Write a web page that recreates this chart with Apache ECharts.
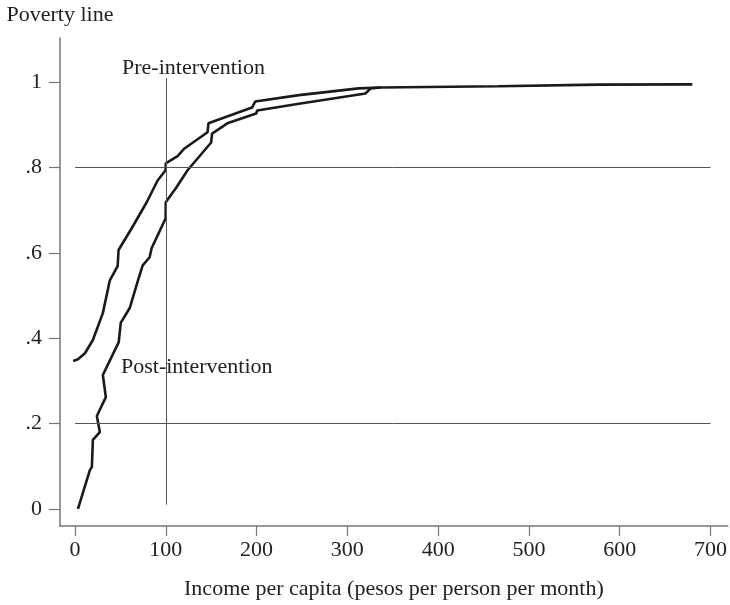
<!DOCTYPE html>
<html>
<head>
<meta charset="utf-8">
<script src="https://cdn.jsdelivr.net/npm/echarts@6/dist/echarts.min.js"></script>
<style>
html,body{margin:0;padding:0;background:#fff;}
#chart{width:730px;height:605px;}
</style>
</head>
<body>
<div id="chart"></div>
<script>
// Income per capita (x) and cumulative share (y) for the left (upper) curve
var preX = [-2, 3.3, 11, 19.7, 30.7, 38.4, 47, 48, 62.5, 79, 91, 99.8, 100, 113, 120.6, 146, 147, 195, 198.5, 246.7, 312.5, 336.6];
var preY = [0.347, 0.351, 0.365, 0.396, 0.459, 0.536, 0.569, 0.607, 0.658, 0.719, 0.770, 0.794, 0.810, 0.827, 0.845, 0.883, 0.904, 0.941, 0.955, 0.970, 0.986, 0.988];
// Right (lower) curve, continuing as the shared tail
var postX = [3.3, 16.4, 18.6, 19.7, 27.4, 24.1, 34, 30.7, 48.2, 50.4, 60.3, 69.4, 74.6, 82.2, 84.4, 99.8, 100, 111.8, 124, 150, 151, 167.8, 199.6, 200.7, 246.7, 320, 325.7, 336.6, 466, 576, 680];
var postY = [0.0, 0.091, 0.098, 0.162, 0.180, 0.218, 0.262, 0.314, 0.391, 0.436, 0.471, 0.536, 0.571, 0.590, 0.611, 0.681, 0.719, 0.754, 0.794, 0.859, 0.880, 0.904, 0.927, 0.934, 0.950, 0.974, 0.986, 0.988, 0.991, 0.9946, 0.9953];
// Reference lines: horizontal levels and vertical poverty line
var hLevels = [0.8, 0.2];
var hFrom = 0, hTo = 700;
var vLineX = 100, vLineFrom = 0.01, vLineTo = 1.01;
// Tick labels
var xTicks = [0, 100, 200, 300, 400, 500, 600, 700];
var yTicks = [0, 0.2, 0.4, 0.6, 0.8, 1];
var yTickLabels = ['0', '.2', '.4', '.6', '.8', '1'];
var labelPre = 'Pre-intervention';
var labelPost = 'Post-intervention';
var xTitle = 'Income per capita (pesos per person per month)';
var yTitle = 'Poverty line';

function zip(a, b) { return a.map(function (v, i) { return [v, b[i]]; }); }

var font = '"Liberation Serif", "DejaVu Serif", serif';
var textColor = '#222';
var fs = 22;

var markData = hLevels.map(function (l) { return [{ coord: [hFrom, l] }, { coord: [hTo, l] }]; });
markData.push([{ coord: [vLineX, vLineFrom] }, { coord: [vLineX, vLineTo] }]);

var chart = echarts.init(document.getElementById('chart'), null, { renderer: 'canvas' });
chart.setOption({
  animation: false,
  backgroundColor: '#fff',
  grid: { left: 60, right: 0, top: 38, bottom: 79 },
  xAxis: {
    type: 'value', min: -16.5, max: 719,
    name: xTitle, nameLocation: 'middle', nameGap: 52,
    nameTextStyle: { fontFamily: font, fontSize: fs, color: textColor },
    axisLine: { show: true, onZero: false, lineStyle: { color: '#777', width: 1.5 } },
    axisTick: { show: true, length: 10, customValues: xTicks, lineStyle: { color: '#777', width: 1.2 } },
    axisLabel: { customValues: xTicks, fontFamily: font, fontSize: fs, color: textColor, margin: 13 },
    splitLine: { show: false }
  },
  yAxis: {
    type: 'value', min: -0.04, max: 1.104,
    name: yTitle, nameLocation: 'end', nameGap: 12,
    nameTextStyle: { fontFamily: font, fontSize: fs, color: textColor, align: 'center' },
    axisLine: { show: true, onZero: false, lineStyle: { color: '#777', width: 1.5 } },
    axisTick: { show: true, length: 11, customValues: yTicks, lineStyle: { color: '#777', width: 1.2 } },
    axisLabel: {
      customValues: yTicks, fontFamily: font, fontSize: fs, color: textColor, margin: 18,
      formatter: function (v) { var i = yTicks.findIndex(function (t) { return Math.abs(t - v) < 1e-6; }); return i >= 0 ? yTickLabels[i] : ''; }
    },
    splitLine: { show: false }
  },
  series: [
    {
      type: 'line', name: 'pre', data: zip(preX, preY), symbol: 'none',
      lineStyle: { color: '#1a1a1a', width: 2.6 },
      markLine: {
        silent: true, symbol: ['none', 'none'], label: { show: false },
        lineStyle: { color: '#555', width: 1, type: 'solid' },
        data: markData
      },
      z: 3
    },
    {
      type: 'line', name: 'post', data: zip(postX, postY), symbol: 'none',
      lineStyle: { color: '#1a1a1a', width: 2.6 },
      z: 3
    }
  ],
  graphic: [
    { type: 'text', left: 122, top: 57, style: { text: labelPre, font: fs + 'px ' + font, fill: textColor } },
    { type: 'text', left: 121, top: 356, style: { text: labelPost, font: fs + 'px ' + font, fill: textColor } }
  ]
});
</script>
</body>
</html>
